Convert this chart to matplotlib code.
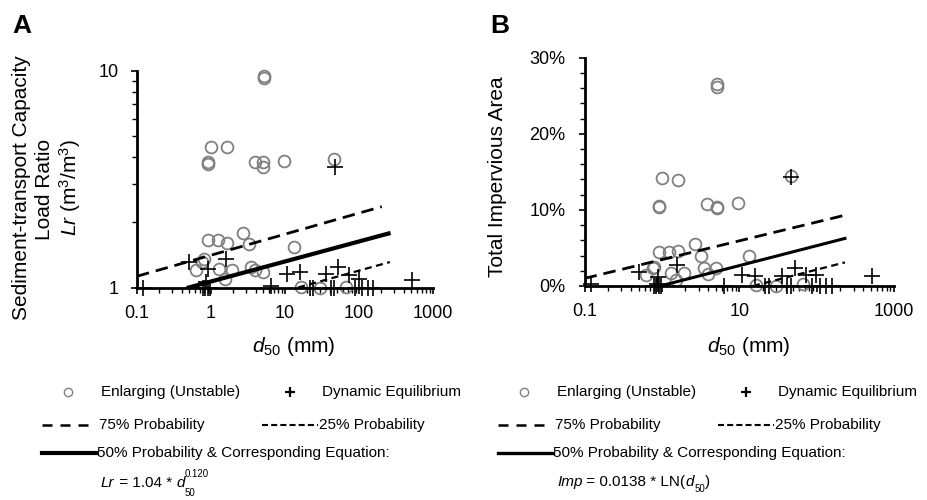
import numpy as np
import matplotlib
matplotlib.use('Agg')
import matplotlib.pyplot as plt
from matplotlib.lines import Line2D
from matplotlib.ticker import (FixedLocator, LogLocator, NullFormatter,
                               FuncFormatter, MultipleLocator)

plt.rcParams['font.family'] = ['Liberation Sans', 'DejaVu Sans']
plt.rcParams['mathtext.fontset'] = 'custom'
plt.rcParams['mathtext.rm'] = 'Liberation Sans'
plt.rcParams['mathtext.it'] = 'Liberation Sans:italic'
plt.rcParams['mathtext.bf'] = 'Liberation Sans:bold'

# --- data ---
# enlarging (unstable) sites: d50 (mm), load ratio Lr, impervious fraction
enl_d50 = [5.15, 5.15, 1.01, 1.62, 0.92, 0.92, 3.88, 5.1, 5.1, 9.6, 46,
           0.92, 1.23, 1.64, 2.70, 3.25, 13.3, 0.80, 0.76, 0.62, 1.30,
           1.94, 1.54, 3.5, 3.92, 5.0, 16.3, 29.7, 66]
enl_lr = [9.3, 9.45, 4.46, 4.46, 3.80, 3.70, 3.78, 3.78, 3.58, 3.84, 3.90,
          1.65, 1.65, 1.60, 1.79, 1.58, 1.54, 1.36, 1.31, 1.20, 1.22,
          1.21, 1.09, 1.24, 1.20, 1.18, 1.01, 1.0, 1.01]
enl_imp = [0.261, 0.265, 0.142, 0.139, 0.105, 0.104, 0.108, 0.104, 0.103,
           0.109, 0.144, 0.045, 0.045, 0.046, 0.055, 0.039, 0.039, 0.025,
           0.023, 0.0145, 0.017, 0.017, 0.008, 0.023, 0.016, 0.023, 0.0015,
           0.0, 0.0026]

# dynamic equilibrium sites
deq_d50 = [0.51, 0.90, 1.58, 0.86, 6.4, 10.7, 16.0, 36.0, 52.0, 73.0, 99.0,
           520, 47, 0.12, 0.78, 0.84, 0.92, 0.97, 21.5, 24.0, 42.0, 46.0,
           87.0, 109, 134, 157]
deq_lr = [1.31, 1.22, 1.36, 1.06, 1.02, 1.16, 1.18, 1.16, 1.24, 1.14, 1.10,
          1.08, 3.6, 1.0, 1.0, 1.0, 1.0, 1.0, 1.0, 1.0, 1.0, 1.0, 1.0, 1.0,
          1.0, 1.0]
deq_imp = [0.018, 0.012, 0.028, 0.003, 0.0, 0.014, 0.013, 0.013, 0.024,
           0.015, 0.015, 0.0135, 0.143, 0.003, 0.0, 0.0, 0.0, 0.0, 0.0,
           0.0, 0.0, 0.0, 0.0, 0.0, 0.0, 0.0]

# probability lines (end points as drawn)
lr_p75_x, lr_p75_y = [0.1, 203], [1.127, 2.36]
lr_p50_x, lr_p50_y = [0.5, 251], [1.0, 1.775]
lr_p25_x, lr_p25_y = [15, 261], [1.0, 1.31]

imp_p75_x, imp_p75_y = [0.1, 232], [0.010, 0.093]
imp_p50_x, imp_p50_y = [0.95, 232], [0.0, 0.0625]
imp_p25_x, imp_p25_y = [15, 232], [0.0, 0.031]

x_ticks = [0.1, 1, 10, 100, 1000]

W, H = 927, 500
fig = plt.figure(figsize=(W / 100, H / 100), dpi=100)


def fx(x):
    return x / W


def fy(y):
    return 1 - y / H


axA = fig.add_axes([fx(137), fy(287.5), fx(433) - fx(137), fy(70.7) - fy(287.5)])
axB = fig.add_axes([fx(584.5), fy(286), fx(894) - fx(584.5), fy(57.7) - fy(286)])

circle_kw = dict(ls='none', marker='o', ms=8.5, mfc='none', mec='#808080',
                 mew=1.3, clip_on=False, zorder=2)
plus_kw = dict(ls='none', marker='+', ms=12, mec='black', mew=1.2,
               clip_on=False, zorder=4)

for ax in (axA, axB):
    ax.spines[['top', 'right']].set_visible(False)
    for s in ('left', 'bottom'):
        ax.spines[s].set_linewidth(2.0)
        ax.spines[s].set_color('black')
        ax.spines[s].set_zorder(3)
    ax.set_xscale('log')
    ax.set_xlim(0.1, 1000)
    ax.xaxis.set_major_locator(FixedLocator(x_ticks))
    ax.xaxis.set_minor_locator(LogLocator(base=10, subs=np.arange(2, 10)))
    ax.xaxis.set_minor_formatter(NullFormatter())
    ax.tick_params(which='major', direction='out', length=4.5, width=1.2,
                   labelsize=13, colors='black')
    ax.tick_params(which='minor', direction='out', length=3.5, width=1.0)
    ax.tick_params(axis='x', pad=8)
    ax.tick_params(axis='y', pad=9)
    ax.patch.set_visible(False)

# panel A
axA.set_yscale('log')
axA.set_ylim(1, 10)
axA.yaxis.set_major_locator(FixedLocator([1, 10]))
axA.yaxis.set_minor_locator(LogLocator(base=10, subs=np.arange(2, 10)))
axA.yaxis.set_minor_formatter(NullFormatter())
axA.yaxis.set_major_formatter(FuncFormatter(lambda v, p: f'{v:g}'))
axA.xaxis.set_major_formatter(FuncFormatter(lambda v, p: f'{v:g}'))

axA.plot(enl_d50, enl_lr, **circle_kw)
axA.plot(deq_d50, deq_lr, **plus_kw)
axA.plot(lr_p75_x, lr_p75_y, color='black', lw=2.0, dashes=(4.5, 2.5), zorder=3)
axA.plot(lr_p50_x, lr_p50_y, color='black', lw=3.0, zorder=3)
axA.plot(lr_p25_x, lr_p25_y, color='black', lw=1.6, dashes=(3.2, 2.0), zorder=3)

# panel B
axB.set_ylim(0, 0.30)
axB.yaxis.set_major_locator(MultipleLocator(0.10))
axB.yaxis.set_minor_locator(MultipleLocator(0.02))
axB.yaxis.set_major_formatter(FuncFormatter(lambda v, p: f'{v * 100:.0f}%'))
axB.xaxis.set_major_formatter(
    FuncFormatter(lambda v, p: f'{v:g}' if v in (0.1, 10, 1000) else ''))

axB.plot(enl_d50, enl_imp, **circle_kw)
axB.plot(deq_d50, deq_imp, **plus_kw)
axB.plot(imp_p75_x, imp_p75_y, color='black', lw=2.0, dashes=(4.5, 2.5), zorder=3)
axB.plot(imp_p50_x, imp_p50_y, color='black', lw=2.2, zorder=3)
axB.plot(imp_p25_x, imp_p25_y, color='black', lw=1.6, dashes=(3.2, 2.0), zorder=3)

# panel letters
fig.text(fx(12), fy(33), 'A', fontsize=19, fontweight='bold', va='baseline')
fig.text(fx(490), fy(33), 'B', fontsize=19, fontweight='bold', va='baseline')

# axis labels
lab = dict(rotation=90, ha='center', va='center', fontsize=15)
fig.text(fx(22), fy(188), 'Sediment-transport Capacity', **lab)
fig.text(fx(45), fy(189), 'Load Ratio', **lab)
fig.text(fx(70), fy(187), r'$\mathit{Lr}$ (m$^3$/m$^3$)', **lab)
fig.text(fx(498), fy(177), 'Total Impervious Area', **lab)

fig.text(fx(294), fy(347), r'$\mathit{d}_{50}$ (mm)', ha='center', va='center', fontsize=15)
fig.text(fx(749), fy(347), r'$\mathit{d}_{50}$ (mm)', ha='center', va='center', fontsize=15)

# legends drawn in figure space
renderer = fig.canvas.get_renderer()


def leg_line(x0, x1, y, **kw):
    fig.add_artist(Line2D([fx(x0), fx(x1)], [fy(y), fy(y)],
                          transform=fig.transFigure, color='black', **kw))


def leg_text(x, y, s, size=11):
    return fig.text(fx(x), fy(y), s, fontsize=size, va='center', ha='left')


def run_text(x, y, parts):
    # parts: (string, fontsize, vertical offset in px, style)
    for s, size, dy, style in parts:
        t = fig.text(fx(x), fy(y + dy), s, fontsize=size, style=style,
                     va='center', ha='left')
        x += t.get_window_extent(renderer).width


def legend(o, solid_lw, eq):
    r1, r2, r3, r4 = 391.7, 425, 453.3, 483
    fig.add_artist(Line2D([fx(o + 68)], [fy(r1)], transform=fig.transFigure,
                          marker='o', ms=6, mfc='none', mec='#808080', mew=1.0))
    leg_text(o + 101, r1, 'Enlarging (Unstable)')
    fig.add_artist(Line2D([fx(o + 290)], [fy(r1)], transform=fig.transFigure,
                          marker='+', ms=7, mec='black', mew=1.6))
    leg_text(o + 322, r1, 'Dynamic Equilibrium')
    leg_line(o + 42, o + 88, r2, lw=1.8, dashes=(4.0, 3.2))
    leg_text(o + 99, r2, '75% Probability')
    leg_line(o + 262, o + 318, r2, lw=1.5, dashes=(2.9, 1.5))
    leg_text(o + 319, r2, '25% Probability')
    leg_line(o + 42, o + 97, r3, lw=solid_lw)
    leg_text(o + 97, r3, '50% Probability & Corresponding Equation:')
    run_text(o + 101, r4, eq)


legend(0, 3.0, [('Lr', 11, 0, 'italic'), (' = 1.04 * ', 11, 0, 'normal'),
                ('d', 11, 0, 'italic'), ('0.120', 7, -9, 'normal')])
fig.text(fx(185), fy(493), '50', fontsize=7, va='center', ha='left')

legend(456, 2.4, [('Imp', 11, -1, 'italic'), (' = 0.0138 * LN(', 11, -1, 'normal'),
                  ('d', 11, -1, 'italic'), ('50', 7, 6, 'normal'),
                  (')', 11, -1, 'normal')])

fig.savefig('out.png', dpi=100)
